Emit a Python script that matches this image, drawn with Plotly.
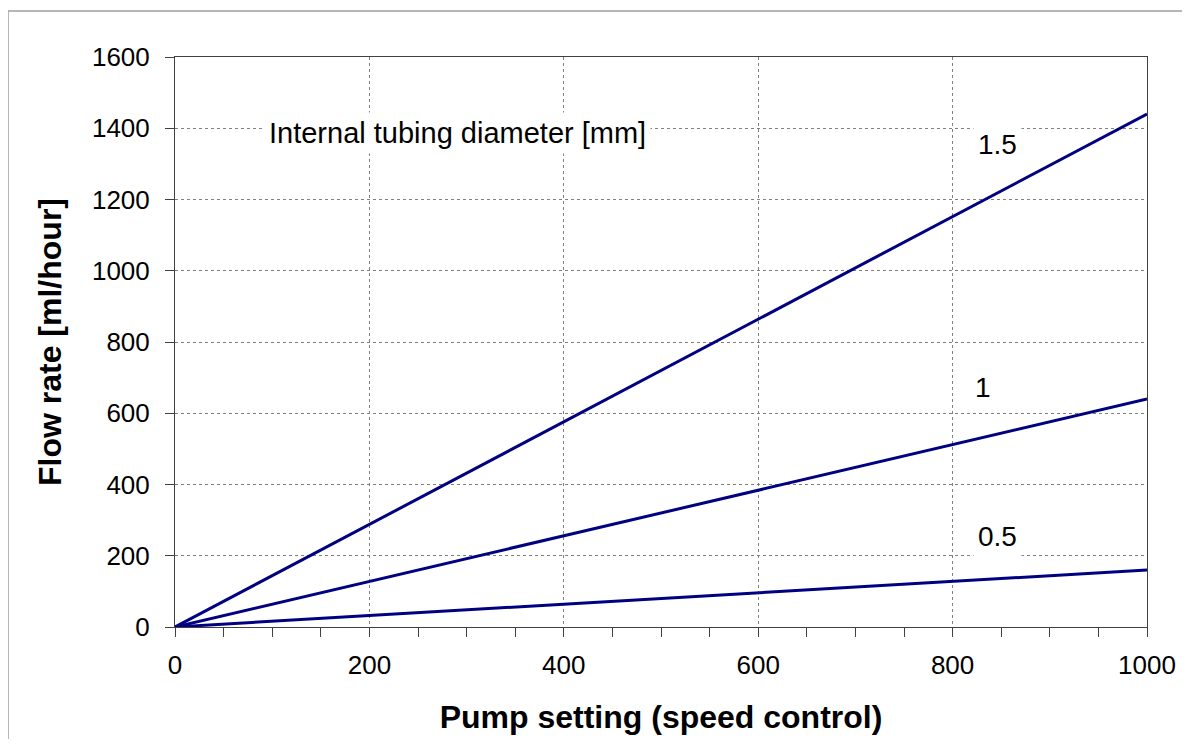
import plotly.graph_objects as go

pump_setting = [0, 1000]
diameters = ["1.5", "1", "0.5"]
flow_d15 = [0, 1440]
flow_d10 = [0, 640]
flow_d05 = [0, 160]

label_x = [846, 831, 846]
label_y = [1355, 671, 255]

FONT = "Liberation Sans, Arial, sans-serif"
LINE_COLOR = "#000080"

fig = go.Figure()
for ys in (flow_d15, flow_d10, flow_d05):
    fig.add_trace(go.Scatter(x=pump_setting, y=ys, mode="lines",
                             line=dict(color=LINE_COLOR, width=3),
                             showlegend=False, hoverinfo="skip"))

for name, lx, ly in zip(diameters, label_x, label_y):
    fig.add_annotation(x=lx, y=ly, text=name, showarrow=False,
                       font=dict(family=FONT, size=28, color="black"),
                       bgcolor="white", borderpad=4)

fig.add_annotation(x=291, y=1387, text="Internal tubing diameter [mm]",
                   showarrow=False, font=dict(family=FONT, size=29, color="black"),
                   bgcolor="white", borderpad=4)

# outer chart frame
fig.add_shape(type="rect", xref="paper", yref="paper",
              x0=-0.1718, x1=1.2, y0=-0.4, y1=1.0807,
              line=dict(color="#a0a0a0", width=1.5), layer="below")

fig.update_layout(
    width=1174, height=731,
    margin=dict(l=167, r=35, t=49, b=112, autoexpand=False),
    paper_bgcolor="white", plot_bgcolor="white",
    font=dict(family=FONT, color="black"),
    xaxis=dict(
        range=[0, 1000], dtick=200, tick0=0,
        showline=True, linecolor="#404040", linewidth=1, mirror=True,
        showgrid=True, gridcolor="#808080", griddash="dot", gridwidth=1,
        ticks="outside", ticklen=9, tickcolor="#404040",
        minor=dict(dtick=50, ticks="outside", ticklen=9, tickcolor="#404040", showgrid=False),
        tickfont=dict(size=26, family=FONT), ticklabelstandoff=6,
        title=dict(text="<b>Pump setting (speed control)</b>",
                   font=dict(size=32, family=FONT), standoff=26),
        zeroline=False, fixedrange=True,
    ),
    yaxis=dict(
        range=[0, 1600], dtick=200, tick0=0,
        showline=True, linecolor="#404040", linewidth=1, mirror=True,
        showgrid=True, gridcolor="#808080", griddash="dot", gridwidth=1,
        ticks="outside", ticklen=9, tickcolor="#404040",
        tickfont=dict(size=26, family=FONT), ticklabelstandoff=10,
        title=dict(text="<b>Flow rate [ml/hour]</b>",
                   font=dict(size=32, family=FONT), standoff=20),
        zeroline=False, fixedrange=True,
    ),
)

fig.write_html("out.html")
